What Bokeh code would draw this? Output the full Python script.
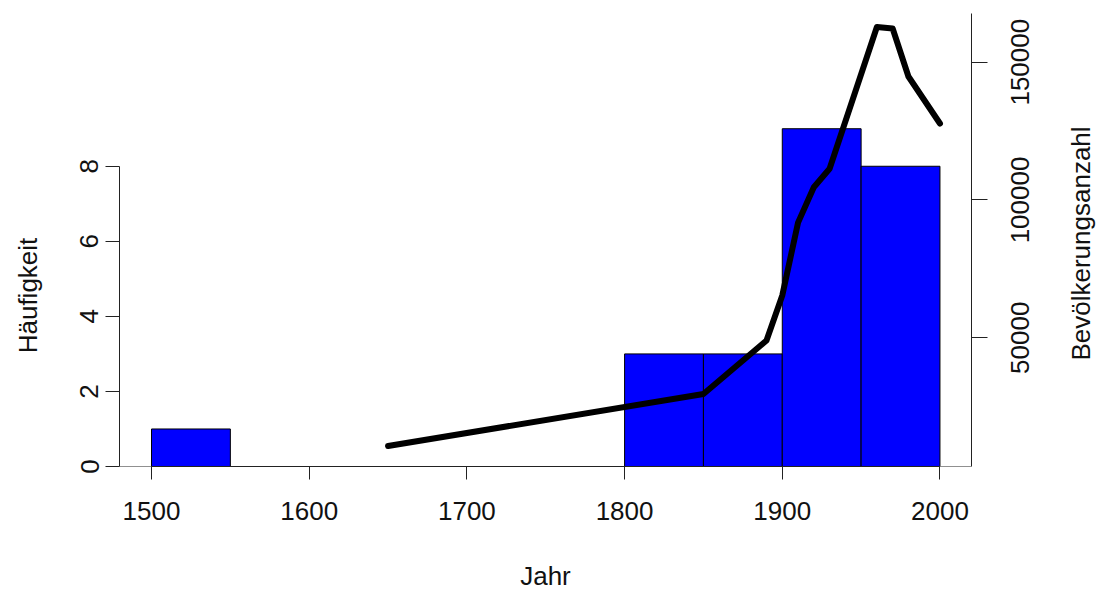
import math
from bokeh.plotting import figure
from bokeh.layouts import row
from bokeh.models import (Range1d, LinearAxis, FixedTicker, Span,
                          ColumnDataSource)
from bokeh.core.properties import value
from bokeh.embed import file_html
from bokeh.resources import INLINE

# ---------------- data ----------------
bin_edges = [1500, 1550, 1600, 1650, 1700, 1750, 1800, 1850, 1900, 1950, 2000]
bin_counts = [1, 0, 0, 0, 0, 0, 3, 3, 9, 8]

pop_years = [1650, 1850, 1890, 1900, 1910, 1920, 1930, 1960, 1970, 1980, 2000]
pop_values = [10740, 29610, 49020, 65350, 91800, 104650, 111320, 162770, 162230, 144810, 127760]

x_ticks = [1500, 1600, 1700, 1800, 1900, 2000]
y_ticks = [0, 2, 4, 6, 8]
pop_ticks = [50000, 100000, 150000]

x_label = "Jahr"
y_label = "Häufigkeit"
pop_label = "Bevölkerungsanzahl"

# ---------------- layout ----------------
W, H = 1097, 595
LEFT_W, RIGHT_W = 45, 35
FONT = "Liberation Sans"
FSIZE = 26
FS = f"{FSIZE}px"
TXT = "#111111"
AX = "#222222"

POP_LO, POP_HI = 3300, 167670
FRAME_TOP, FRAME_BOTTOM = 13, 466
FRAME_LEFT, FRAME_RIGHT = 119, 971

p = figure(width=W - LEFT_W - RIGHT_W, height=H, output_backend="svg",
           toolbar_location=None,
           x_range=Range1d(1479.7, 2020.0), y_range=Range1d(0, 12.07),
           min_border_left=FRAME_LEFT - LEFT_W,
           min_border_right=(W - FRAME_RIGHT) - RIGHT_W,
           min_border_top=FRAME_TOP, min_border_bottom=H - FRAME_BOTTOM)
p.extra_y_ranges = {"pop": Range1d(POP_LO, POP_HI)}
p.xgrid.visible = False
p.ygrid.visible = False
p.outline_line_color = None
p.background_fill_color = "white"
p.border_fill_color = "white"

# histogram bars
src = ColumnDataSource(dict(left=bin_edges[:-1], right=bin_edges[1:],
                            top=bin_counts, bottom=[0] * len(bin_counts)))
p.quad(left="left", right="right", top="top", bottom="bottom", source=src,
       fill_color="#0000FF", line_color="black", line_width=1)

# baseline
p.add_layout(Span(location=0, dimension="width", line_color=AX, line_width=1))

# population line
p.line(pop_years, pop_values, y_range_name="pop", line_color="black",
       line_width=6, line_join="round", line_cap="round")


def style_axis(ax, ticks, tick_out, standoff, orient=None):
    ax.ticker = FixedTicker(ticks=ticks)
    ax.minor_tick_line_color = None
    ax.major_tick_in = 0
    ax.major_tick_out = tick_out
    ax.axis_line_color = AX
    ax.major_tick_line_color = AX
    ax.major_label_text_font = FONT
    ax.major_label_text_font_size = FS
    ax.major_label_text_color = TXT
    ax.major_label_standoff = standoff
    ax.axis_label_text_font = FONT
    ax.axis_label_text_font_size = FS
    ax.axis_label_text_font_style = "normal"
    ax.axis_label_text_color = TXT
    if orient is not None:
        ax.major_label_orientation = orient


# bottom axis
xa = p.xaxis[0]
style_axis(xa, x_ticks, 13, 22)
xa.bounds = (x_ticks[0], x_ticks[-1])
xa.axis_label = x_label
xa.axis_label_standoff = 38

# left axis
ya = p.yaxis[0]
style_axis(ya, y_ticks, 14, 7, "parallel")
ya.bounds = (y_ticks[0], y_ticks[-1])

# right axis: line + ticks
ra = LinearAxis(y_range_name="pop")
style_axis(ra, pop_ticks, 16, 0)
ra.major_label_text_color = None
ra.major_label_text_font_size = "1px"
p.add_layout(ra, "right")

# right axis: rotated labels centred on their ticks
pop_px_per_unit = (FRAME_BOTTOM - FRAME_TOP) / (POP_HI - POP_LO)
shifted, overrides = [], {}
for t in pop_ticks:
    s = str(t)
    half_px = len(s) * 0.556 * FSIZE / 2.0
    v = int(round(t - half_px / pop_px_per_unit))
    shifted.append(v)
    overrides[v] = s

rl = LinearAxis(y_range_name="pop")
style_axis(rl, shifted, 0, 33, math.pi / 2)
rl.axis_line_color = None
rl.major_tick_line_color = None
rl.major_label_overrides = overrides
p.add_layout(rl, "right")


# side strips holding the rotated axis titles
# (their frames get aligned with the main frame, so map the frame's pixel span)
def title_strip(width, text, cx, cy):
    f = figure(width=width, height=H, output_backend="svg", toolbar_location=None,
               x_range=Range1d(0, width),
               y_range=Range1d(H - FRAME_BOTTOM, H - FRAME_TOP),
               x_axis_type=None, y_axis_type=None,
               min_border=0, min_border_left=0, min_border_right=0,
               min_border_top=FRAME_TOP, min_border_bottom=H - FRAME_BOTTOM)
    f.xgrid.visible = False
    f.ygrid.visible = False
    f.outline_line_color = None
    f.background_fill_color = "white"
    f.border_fill_color = "white"
    f.text(x=[cx], y=[H - cy], text=[text], angle=math.pi / 2,
           text_font=value(FONT), text_font_size=value(FS), text_color=TXT,
           text_align="center", text_baseline="middle")
    return f


left_strip = title_strip(LEFT_W, y_label, 27, 295)
right_strip = title_strip(RIGHT_W, pop_label, 1080 - (W - RIGHT_W), 243)

layout = row(left_strip, p, right_strip)
layout.spacing = 0

open("out.html", "w").write(file_html(layout, INLINE))
